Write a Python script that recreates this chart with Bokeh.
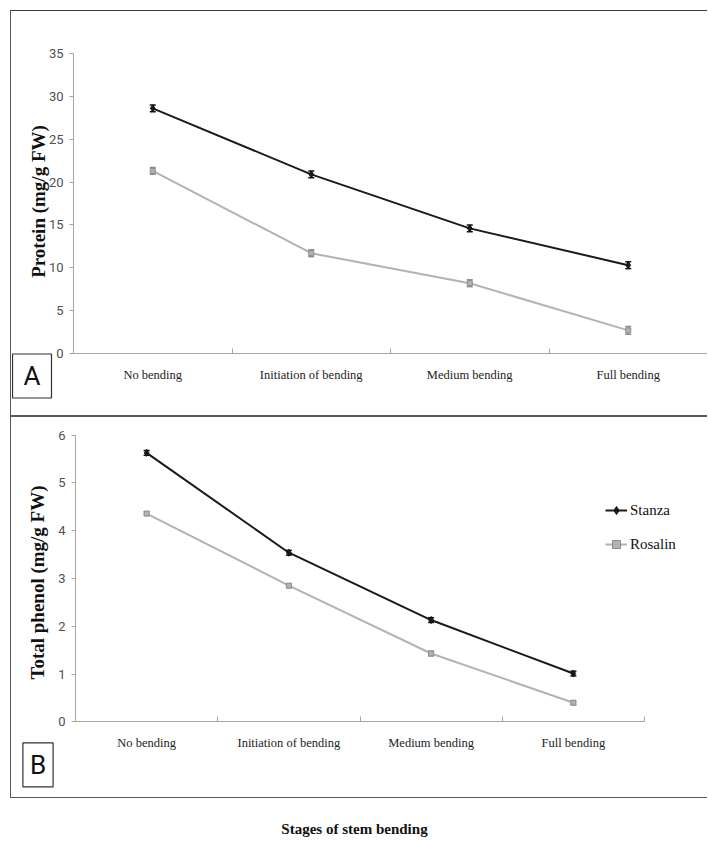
import math
from bokeh.plotting import figure
from bokeh.models import (ColumnDataSource, Whisker, TeeHead, FixedTicker, Label,
                          Legend, LegendItem, Range1d)
from bokeh.layouts import column
from bokeh.embed import file_html
from bokeh.resources import INLINE

# ---------------- data ----------------
stages = ["No bending", "Initiation of bending", "Medium bending", "Full bending"]
series_names = ["Stanza", "Rosalin"]

protein_stanza = [28.6, 20.9, 14.6, 10.3]
protein_stanza_err = [0.4, 0.4, 0.4, 0.4]
protein_rosalin = [21.3, 11.7, 8.2, 2.7]
protein_rosalin_err = [0.4, 0.4, 0.4, 0.45]

phenol_stanza = [5.63, 3.54, 2.13, 1.01]
phenol_stanza_err = [0.05, 0.05, 0.05, 0.05]
phenol_rosalin = [4.36, 2.85, 1.43, 0.40]
phenol_rosalin_err = [0.04, 0.04, 0.05, 0.04]

protein_ticks = [0, 5, 10, 15, 20, 25, 30, 35]
phenol_ticks = [0, 1, 2, 3, 4, 5, 6]

x_title = "Stages of stem bending"
protein_title = "Protein (mg/g FW)"
phenol_title = "Total phenol (mg/g FW)"

# ---------------- styles ----------------
TICK_FONT = "Liberation Sans Narrow, Roboto, sans-serif"
SERIF = "Liberation Serif, Times New Roman, serif"
AXIS_GREY = "#a6a6a6"
STANZA_COLOR = "#1a1a1a"
ROSALIN_COLOR = "#b3b3b3"
BOX_TOP = "1px solid #3a3a3a"
BOX = "1px solid #5a5a5a"


def make_panel(cw, ch, cleft, ctop, x0_px, xn_px, y0_px, ytop_px, ticks,
               stanza, stanza_err, rosalin, rosalin_err):
    n = len(stages)
    per_x = (xn_px - x0_px) / n
    per_y = (y0_px - ytop_px) / (ticks[-1] - ticks[0])
    x_rng = Range1d((cleft - x0_px) / per_x, (cleft + cw - x0_px) / per_x)
    y_rng = Range1d(ticks[0] - (ctop + ch - y0_px) / per_y,
                    ticks[-1] + (ytop_px - ctop) / per_y)
    p = figure(width=cw, height=ch, x_range=x_rng, y_range=y_rng,
               toolbar_location=None, output_backend="svg",
               min_border_left=0, min_border_right=0,
               min_border_top=0, min_border_bottom=0)
    p.grid.visible = False
    p.outline_line_color = None
    p.background_fill_color = "white"
    p.border_fill_color = "white"

    xs = [i + 0.5 for i in range(n)]

    xa = p.xaxis[0]
    xa.fixed_location = ticks[0]
    xa.bounds = (0, n)
    xa.ticker = FixedTicker(ticks=xs, minor_ticks=list(range(n + 1)))
    xa.major_label_overrides = {x: s for x, s in zip(xs, stages)}
    xa.major_tick_line_color = None
    xa.major_tick_in = 0
    xa.major_tick_out = 0
    xa.minor_tick_in = 5
    xa.minor_tick_out = 0
    xa.minor_tick_line_color = AXIS_GREY
    xa.axis_line_color = AXIS_GREY
    xa.major_label_text_font = SERIF
    xa.major_label_text_font_size = "12.5px"
    xa.major_label_text_color = "#222222"
    xa.major_label_standoff = 14

    ya = p.yaxis[0]
    ya.fixed_location = 0
    ya.bounds = (ticks[0], ticks[-1])
    ya.ticker = FixedTicker(ticks=ticks)
    ya.minor_tick_line_color = None
    ya.major_tick_in = 0
    ya.major_tick_out = 4
    ya.major_tick_line_color = AXIS_GREY
    ya.axis_line_color = AXIS_GREY
    ya.major_label_text_font = TICK_FONT
    ya.major_label_text_font_size = "13px"
    ya.major_label_text_color = "#505050"
    ya.major_label_standoff = 6

    renderers = {}
    for name, vals, errs, color, marker, msize, ecolor in [
        ("Stanza", stanza, stanza_err, STANZA_COLOR, "diamond", 7, "#111111"),
        ("Rosalin", rosalin, rosalin_err, ROSALIN_COLOR, "square", 5, "#8c8c8c"),
    ]:
        src = ColumnDataSource(dict(
            x=xs, y=vals,
            upper=[v + e for v, e in zip(vals, errs)],
            lower=[v - e for v, e in zip(vals, errs)]))
        w = Whisker(source=src, base="x", upper="upper", lower="lower",
                    line_color=ecolor, line_width=1.5,
                    upper_head=TeeHead(size=6, line_color=ecolor, line_width=1.5),
                    lower_head=TeeHead(size=6, line_color=ecolor, line_width=1.5))
        p.add_layout(w)
        lr = p.line("x", "y", source=src, line_color=color, line_width=2)
        sr = p.scatter("x", "y", source=src, marker=marker, size=msize,
                       fill_color=color, line_color=ecolor)
        renderers[name] = (lr, sr)
    return p, renderers


def y_title(p, text, x, y):
    p.add_layout(Label(x=x, y=y, x_units="screen", y_units="screen", text=text,
                       angle=math.pi / 2, text_align="center", text_baseline="middle",
                       text_font=SERIF, text_font_style="bold", text_font_size="19px",
                       text_color="#111111"))


def panel_tag(p, text, x, y, pad):
    p.add_layout(Label(x=x, y=y, x_units="screen", y_units="screen", text=text,
                       text_align="center", text_baseline="middle",
                       text_font=TICK_FONT, text_font_size="26px", text_color="#111111",
                       border_line_color="#333333", border_line_width=1.2,
                       background_fill_color="white", padding=pad))


# ---------------- panel A ----------------
pA, _ = make_panel(697, 406, 11, 11, 73, 707, 353, 53, protein_ticks,
                   protein_stanza, protein_stanza_err, protein_rosalin, protein_rosalin_err)
y_title(pA, protein_title, 27, 216)
panel_tag(pA, "A", 20.5, 41.5, (11, 7))
pA.styles = {"border-top": BOX_TOP, "border-left": BOX, "border-bottom": BOX,
             "margin-left": "10px", "margin-top": "10px"}

# ---------------- panel B ----------------
pB, rB = make_panel(697, 382, 11, 419, 75, 644, 723.3, 436.7, phenol_ticks,
                    phenol_stanza, phenol_stanza_err, phenol_rosalin, phenol_rosalin_err)
y_title(pB, phenol_title, 26, 217)
panel_tag(pB, "B", 26.5, 34.7, (7, 7))
legend = Legend(items=[LegendItem(label=n, renderers=list(rB[n])) for n in series_names],
                location=(594, 245), padding=0, margin=0, spacing=14,
                glyph_width=22, glyph_height=20, label_height=20, label_standoff=3,
                label_text_font=SERIF, label_text_font_size="15px",
                label_text_color="#111111",
                border_line_color=None, background_fill_alpha=0)
pB.add_layout(legend)
pB.styles = {"border-top": BOX, "border-left": BOX, "border-bottom": BOX,
             "margin-left": "10px"}

# ---------------- common x title ----------------
pT = figure(width=692, height=40, toolbar_location=None, output_backend="svg",
            min_border_left=0, min_border_right=0, min_border_top=38, min_border_bottom=0,
            x_range=Range1d(0, 1), y_range=Range1d(0, 1))
pT.axis.visible = False
pT.grid.visible = False
pT.outline_line_color = None
pT.title.text = x_title
pT.title.align = "center"
pT.title.text_font = SERIF
pT.title.text_font_style = "bold"
pT.title.text_font_size = "15px"
pT.title.text_color = "#111111"
pT.title.standoff = 0
pT.styles = {"margin-left": "8px"}

layout = column(pA, pB, pT, spacing=0)
open("out.html", "w").write(file_html(layout, INLINE))
